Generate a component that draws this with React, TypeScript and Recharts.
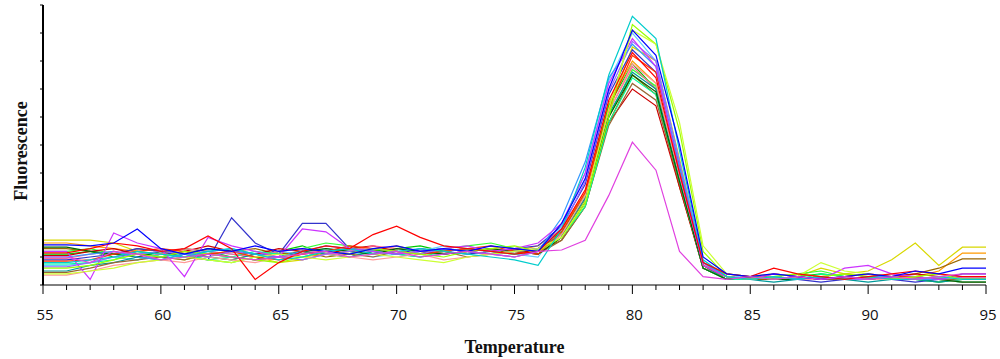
import { LineChart, Line, XAxis, YAxis } from 'recharts';

// melt curve, one reading per degree
const temps = [
  55, 56, 57, 58, 59, 60, 61, 62, 63, 64, 65, 66, 67, 68, 69, 70, 71, 72, 73, 74, 75,
  76, 77, 78, 79, 80, 81, 82, 83, 84, 85, 86, 87, 88, 89, 90, 91, 92, 93, 94, 95,
];

const majorTicks = [55, 60, 65, 70, 75, 80, 85, 90, 95];
const fluorTicks = [0, 10, 20, 30, 40, 50, 60, 70, 80, 90, 100];

const yellowCurve = [16, 16, 16, 15, 12, 10, 9, 11, 12, 10, 8, 9, 11, 12, 13, 11, 12, 13, 12, 11, 12, 13, 18, 30, 62, 85, 80, 45, 8, 4, 3, 4, 3, 6, 4, 5, 9, 15, 7, 13.5, 13.5];
const orangeCurve = [15, 15, 14, 13, 12, 11, 12, 10, 9, 11, 12, 10, 11, 13, 12, 14, 12, 11, 12, 13, 12, 14, 20, 33, 65, 80, 72, 38, 6, 3, 2, 3, 2, 3, 4, 3, 2, 3, 5, 11.4, 11.4];
const brownCurve = [13, 13, 12, 11, 13, 12, 10, 11, 12, 13, 11, 12, 10, 11, 13, 12, 11, 13, 12, 11, 13, 12, 16, 28, 58, 75, 68, 35, 7, 3, 2, 2, 3, 2, 3, 2, 3, 4, 6, 9.3, 9.3];
const blueCurve = [14.3, 14.3, 14, 15, 20, 13, 11, 13, 12, 14, 12, 13, 12, 11, 13, 14, 12, 13, 12, 14, 13, 12, 22, 38, 70, 91, 82, 50, 10, 4, 3, 4, 3, 2, 3, 4, 3, 5, 4, 6, 6];
const navyCurve = [9, 9, 10, 11, 13, 12, 10, 9, 24, 15, 11, 22, 22, 13, 12, 11, 13, 12, 11, 12, 13, 14, 21, 36, 68, 84, 76, 42, 8, 3, 2, 3, 2, 1, 2, 3, 2, 1, 2, 4, 4];
const magentaCurve = [10, 10, 8, 12, 11, 9, 10, 11, 10, 9, 10, 11, 12, 10, 11, 12, 10, 11, 12, 11, 10, 12, 12.5, 16, 32, 51, 41, 12, 3, 2, 3, 2, 3, 2, 3, 2, 3, 2, 3, 4, 4];
const purpleCurve = [12, 12, 2, 18.6, 15, 13, 3, 17, 14, 12, 10, 20, 19, 13, 12, 11, 12, 13, 14, 12, 13, 15, 22, 40, 72, 88, 78, 40, 7, 3, 2, 4, 3, 2, 6, 7, 4, 3, 2, 3, 3];
const greenCurve = [11, 11, 12, 10, 9, 11, 13, 12, 10, 9, 12, 14, 11, 10, 12, 13, 14, 12, 13, 12, 11, 13, 19, 32, 64, 79, 70, 36, 6, 2, 3, 2, 3, 4, 3, 2, 3, 2, 1, 2, 2];
const lightGreenCurve = [12, 12, 13, 11, 10, 12, 11, 9, 8, 10, 12, 13, 15, 14, 12, 11, 12, 13, 14, 15, 13, 12, 18, 30, 60, 77, 71, 40, 7, 2, 3, 3, 4, 5, 3, 4, 2, 3, 2, 1, 1];
const redCurve = [11.5, 11.5, 13, 15, 14, 12, 13, 17.5, 13, 2, 8, 12, 14, 13, 18, 21, 17, 14, 13, 12, 11, 12, 20, 34, 66, 83, 74, 40, 8, 4, 3, 6, 4, 3, 2, 3, 4, 5, 4, 3, 3];
const darkRedCurve = [10.5, 10.5, 12, 13, 11, 10, 12, 14, 12, 11, 13, 12, 11, 13, 14, 12, 11, 12, 13, 12, 13, 11, 17, 30, 58, 70, 64, 35, 6, 3, 2, 3, 2, 3, 2, 2, 3, 4, 3, 2, 2];
const cyanCurve = [8, 8, 9, 10, 12, 11, 10, 12, 13, 11, 9, 10, 12, 13, 11, 12, 13, 12, 11, 10, 9, 7, 20, 42, 75, 96, 88, 48, 9, 3, 2, 3, 2, 3, 2, 3, 2, 2, 3, 2, 2];
const skyCurve = [7, 7, 8, 10, 9, 11, 10, 12, 11, 10, 12, 11, 13, 12, 10, 11, 12, 14, 13, 12, 11, 10, 21, 40, 73, 90, 80, 44, 8, 3, 3, 2, 3, 2, 3, 2, 3, 2, 2, 1, 1];
const limeCurve = [6, 6, 7, 9, 11, 10, 12, 11, 10, 9, 8, 10, 12, 11, 13, 12, 11, 10, 12, 13, 14, 12, 17, 29, 60, 93, 86, 55, 12, 3, 2, 3, 4, 3, 4, 3, 2, 3, 4, 2, 2];
const pinkCurve = [9.5, 9.5, 11, 12, 10, 11, 13, 12, 11, 10, 12, 13, 11, 12, 14, 13, 12, 11, 12, 13, 12, 11, 18, 31, 62, 78, 70, 37, 6, 3, 2, 3, 2, 2, 3, 2, 3, 2, 3, 2, 2];
const tealCurve = [5, 5, 7, 8, 10, 9, 11, 10, 9, 11, 10, 12, 11, 10, 12, 11, 10, 11, 12, 11, 12, 13, 18, 31, 61, 76, 70, 38, 7, 2, 2, 1, 2, 3, 2, 1, 2, 2, 1, 2, 2];
const umberCurve = [4.5, 4.5, 6, 8, 9, 10, 9, 11, 10, 9, 10, 11, 12, 11, 10, 12, 11, 12, 10, 11, 12, 11, 16, 28, 57, 72, 66, 36, 6, 2, 3, 2, 3, 2, 2, 3, 2, 3, 2, 2, 2];
const scarletCurve = [8.5, 8.5, 9, 11, 12, 13, 12, 11, 12, 10, 9, 11, 12, 14, 13, 12, 11, 12, 13, 14, 12, 11, 19, 33, 63, 82, 76, 42, 7, 3, 2, 4, 3, 2, 3, 4, 3, 3, 2, 3, 3];
const mintCurve = [7.5, 7.5, 8, 9, 12, 10, 11, 9, 10, 12, 11, 10, 12, 13, 12, 11, 10, 12, 13, 12, 11, 12, 17, 28, 58, 74, 68, 37, 6, 2, 2, 3, 2, 4, 3, 2, 3, 2, 2, 1, 1];
const lavenderCurve = [6.5, 6.5, 8, 10, 11, 12, 11, 10, 12, 11, 10, 9, 11, 12, 13, 12, 11, 13, 12, 11, 12, 13, 20, 37, 69, 87, 80, 44, 8, 3, 2, 3, 2, 3, 2, 2, 3, 2, 3, 2, 2];
const chartreuseCurve = [4, 4, 5, 6, 8, 9, 10, 9, 8, 10, 11, 10, 9, 10, 11, 10, 9, 8, 10, 11, 12, 13, 17, 30, 63, 91, 86, 58, 14, 4, 3, 2, 3, 8, 5, 4, 3, 2, 3, 2, 2];
const salmonCurve = [3.5, 3.5, 5, 7, 8, 9, 8, 10, 9, 8, 10, 9, 11, 10, 9, 10, 11, 9, 10, 11, 10, 12, 18, 32, 62, 79, 72, 39, 7, 3, 2, 3, 2, 2, 3, 2, 2, 3, 2, 1, 1];
const forestCurve = [13.5, 13.5, 12, 11, 10, 12, 11, 13, 12, 11, 10, 12, 13, 12, 11, 13, 12, 11, 12, 13, 12, 11, 17, 30, 60, 75, 69, 37, 6, 2, 3, 2, 2, 3, 2, 2, 3, 2, 2, 1, 1];
const azureCurve = [10, 10, 11, 12, 10, 9, 11, 12, 13, 11, 10, 12, 14, 13, 12, 11, 12, 13, 12, 11, 10, 12, 24, 44, 74, 86, 78, 42, 8, 3, 2, 3, 2, 3, 2, 3, 3, 2, 2, 3, 3];

const curves = [
  { key: 'yellow', values: yellowCurve, color: '#d8d800' },
  { key: 'orange', values: orangeCurve, color: '#ff9900' },
  { key: 'brown', values: brownCurve, color: '#996600' },
  { key: 'navy', values: navyCurve, color: '#3333cc' },
  { key: 'green', values: greenCurve, color: '#00cc00' },
  { key: 'lightGreen', values: lightGreenCurve, color: '#33ff33' },
  { key: 'darkRed', values: darkRedCurve, color: '#cc0000' },
  { key: 'sky', values: skyCurve, color: '#66ccff' },
  { key: 'pink', values: pinkCurve, color: '#ff6699' },
  { key: 'teal', values: tealCurve, color: '#009999' },
  { key: 'umber', values: umberCurve, color: '#996633' },
  { key: 'mint', values: mintCurve, color: '#00ff99' },
  { key: 'salmon', values: salmonCurve, color: '#ff9999' },
  { key: 'forest', values: forestCurve, color: '#006600' },
  { key: 'scarlet', values: scarletCurve, color: '#ff3300' },
  { key: 'lavender', values: lavenderCurve, color: '#9966ff' },
  { key: 'azure', values: azureCurve, color: '#3399ff' },
  { key: 'purple', values: purpleCurve, color: '#cc33ff' },
  { key: 'lime', values: limeCurve, color: '#99ff00' },
  { key: 'chartreuse', values: chartreuseCurve, color: '#ccff33' },
  { key: 'cyan', values: cyanCurve, color: '#00cccc' },
  { key: 'red', values: redCurve, color: '#ff0000' },
  { key: 'blue', values: blueCurve, color: '#0000ff' },
  { key: 'magenta', values: magentaCurve, color: '#e040e0' },
];

const data = temps.map((t, i) => {
  const row: Record<string, number> = { temp: t };
  curves.forEach(c => { row[c.key] = c.values[i]; });
  return row;
});

const TempTick = (props: any) => {
  const { x, y, payload } = props;
  const major = majorTicks.includes(payload.value);
  return (
    <g>
      <line x1={x} x2={x} y1={y} y2={y + (major ? 9 : 5)} stroke="#000" strokeWidth={1} />
      {major && (
        <text x={x + 2} y={y + 35} textAnchor="middle" fontFamily="'Open Sans', sans-serif" fontSize={15} fill="#111">
          {payload.value}
        </text>
      )}
    </g>
  );
};

const labelFont = {
  fontFamily: "'Liberation Serif', serif",
  fontSize: 18,
  fontWeight: 700,
  fill: '#111',
};

export default function App() {
  return (
    <div style={{ width: 1000, height: 359, background: '#fff' }}>
      <style>{'body{margin:0}'}</style>
      <LineChart width={1000} height={359} data={data} margin={{ top: 5, right: 14, bottom: 0, left: 0 }}>
        <XAxis
          dataKey="temp"
          type="number"
          domain={[55, 95]}
          ticks={temps}
          interval={0}
          tickSize={0}
          tickMargin={0}
          tickLine={false}
          tick={<TempTick />}
          height={74}
          axisLine={{ stroke: '#000', strokeWidth: 1 }}
          label={{ value: 'Temperature', position: 'insideBottom', offset: 6, ...labelFont }}
        />
        <YAxis
          type="number"
          domain={[0, 100]}
          ticks={fluorTicks}
          width={43}
          tickSize={3}
          tickFormatter={() => ''}
          tickLine={{ stroke: '#000' }}
          axisLine={{ stroke: '#000', strokeWidth: 2 }}
          label={{ value: 'Fluorescence', angle: -90, position: 'center', dx: -1, dy: 6, ...labelFont }}
        />
        {curves.map(c => (
          <Line
            key={c.key}
            dataKey={c.key}
            type="linear"
            stroke={c.color}
            strokeWidth={1.2}
            dot={false}
            activeDot={false}
            isAnimationActive={false}
          />
        ))}
      </LineChart>
    </div>
  );
}
